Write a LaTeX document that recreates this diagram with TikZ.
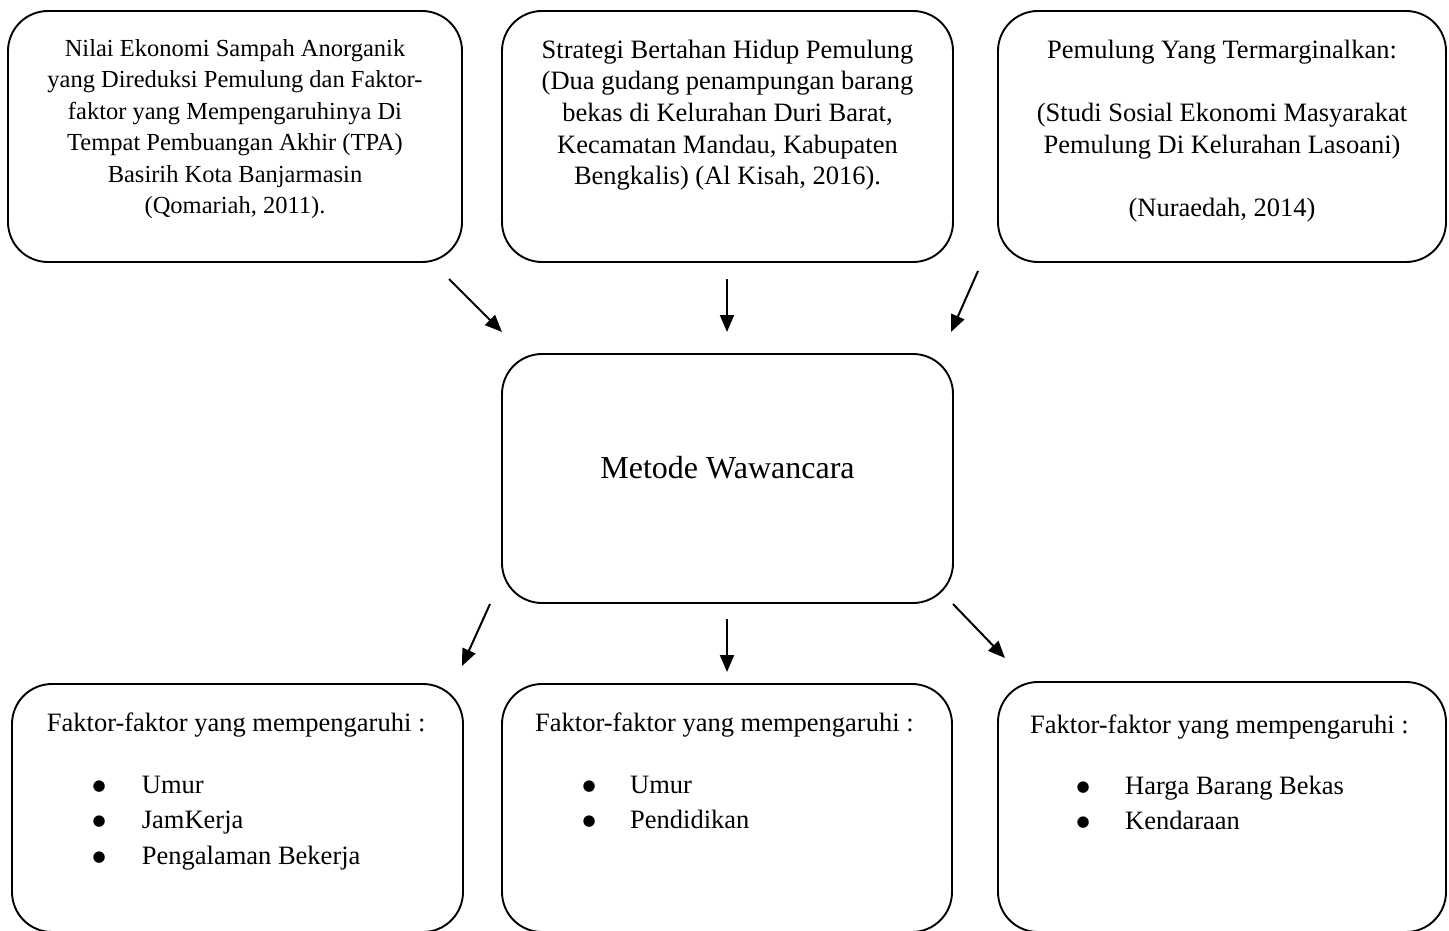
\documentclass[tikz,border=0pt]{standalone}
\usepackage{fontspec}
\setmainfont{Liberation Serif}
\newfontfamily\bulfont{DejaVu Sans}
\usetikzlibrary{arrows.meta}
\newcommand{\bigbul}{\makebox[0pt][c]{\raisebox{3pt}{\bulfont\fontsize{15pt}{15pt}\selectfont ●}}}
\begin{document}
\begin{tikzpicture}[x=1pt,y=-1pt,
  box/.style={draw, line width=1.9pt, rounded corners=40pt, rectangle, inner sep=0pt},
  txtS/.style={font=\fontsize{24.5pt}{31.5pt}\selectfont, align=center, inner sep=0pt, anchor=north},
  txtL/.style={font=\fontsize{26.5pt}{31.6pt}\selectfont, align=center, inner sep=0pt, anchor=north},
  txtM/.style={font=\fontsize{32pt}{38pt}\selectfont, inner sep=0pt, anchor=base},
  head/.style={font=\fontsize{26.5pt}{35.7pt}\selectfont, inner sep=0pt, anchor=base west},
  lst/.style={font=\fontsize{26.5pt}{35.7pt}\selectfont, inner sep=0pt, anchor=base west},
  arr/.style={line width=2pt, -{Triangle[length=17pt,width=14pt]}}]
\useasboundingbox (0,0) rectangle (1449,931);

% top boxes
\node[box, minimum width=454pt, minimum height=251pt] (src1) at (235,136.5) {};
\node[txtS] (src1t) at (235,36) {\rule{0pt}{20pt}Nilai Ekonomi Sampah Anorganik\\yang Direduksi Pemulung dan Faktor-\\faktor yang Mempengaruhinya Di\\Tempat Pembuangan Akhir (TPA)\\Basirih Kota Banjarmasin\\(Qomariah, 2011).};

\node[box, minimum width=451pt, minimum height=251pt] (src2) at (727.5,136.5) {};
\node[txtL] (src2t) at (727.5,38) {\rule{0pt}{20pt}Strategi Bertahan Hidup Pemulung\\(Dua gudang penampungan barang\\bekas di Kelurahan Duri Barat,\\Kecamatan Mandau, Kabupaten\\Bengkalis) (Al Kisah, 2016).};

\node[box, minimum width=448pt, minimum height=251pt] (src3) at (1222,136.5) {};
\node[txtL] (src3t) at (1222,38) {\rule{0pt}{20pt}Pemulung Yang Termarginalkan:\\[31.6pt](Studi Sosial Ekonomi Masyarakat\\Pemulung Di Kelurahan Lasoani)\\[31.6pt](Nuraedah, 2014)};

% middle box
\node[box, minimum width=451pt, minimum height=249pt] (meth) at (727.5,478.5) {};
\node[txtM] (metht) at (727.5,478) {Metode Wawancara};

% bottom boxes
\node[box, minimum width=451pt, minimum height=248pt] (f1) at (237.5,808) {};
\node[head] (f1h) at (46.7,731.7) {Faktor-faktor yang mempengaruhi :};
\node[lst] (f1l) at (99,793) {\renewcommand\arraystretch{1}\begin{tabular}[t]{@{}l@{\hspace{42.7pt}}l@{}}\bigbul&Umur\\\bigbul&JamKerja\\\bigbul&Pengalaman Bekerja\end{tabular}};

\node[box, minimum width=450pt, minimum height=248pt] (f2) at (727,808) {};
\node[head] (f2h) at (535,731.7) {Faktor-faktor yang mempengaruhi :};
\node[lst] (f2l) at (589,793) {\renewcommand\arraystretch{1}\begin{tabular}[t]{@{}l@{\hspace{41pt}}l@{}}\bigbul&Umur\\\bigbul&Pendidikan\end{tabular}};

\node[box, minimum width=448pt, minimum height=250pt] (f3) at (1222,807) {};
\node[head] (f3h) at (1030,733) {Faktor-faktor yang mempengaruhi :};
\node[lst] (f3l) at (1083,794) {\renewcommand\arraystretch{1}\begin{tabular}[t]{@{}l@{\hspace{42pt}}l@{}}\bigbul&Harga Barang Bekas\\\bigbul&Kendaraan\end{tabular}};

% arrows
\coordinate (a1s) at (449,279); \coordinate (a1e) at (502,332);
\coordinate (a2s) at (727,279); \coordinate (a2e) at (727,332);
\coordinate (a3s) at (978,271); \coordinate (a3e) at (951,332);
\coordinate (b1s) at (490,604); \coordinate (b1e) at (462,666);
\coordinate (b2s) at (727,619); \coordinate (b2e) at (727,672);
\coordinate (b3s) at (953,604); \coordinate (b3e) at (1005,658);
\draw[arr] (a1s) -- (a1e);
\draw[arr] (a2s) -- (a2e);
\draw[arr] (a3s) -- (a3e);
\draw[arr] (b1s) -- (b1e);
\draw[arr] (b2s) -- (b2e);
\draw[arr] (b3s) -- (b3e);
\end{tikzpicture}
\end{document}
